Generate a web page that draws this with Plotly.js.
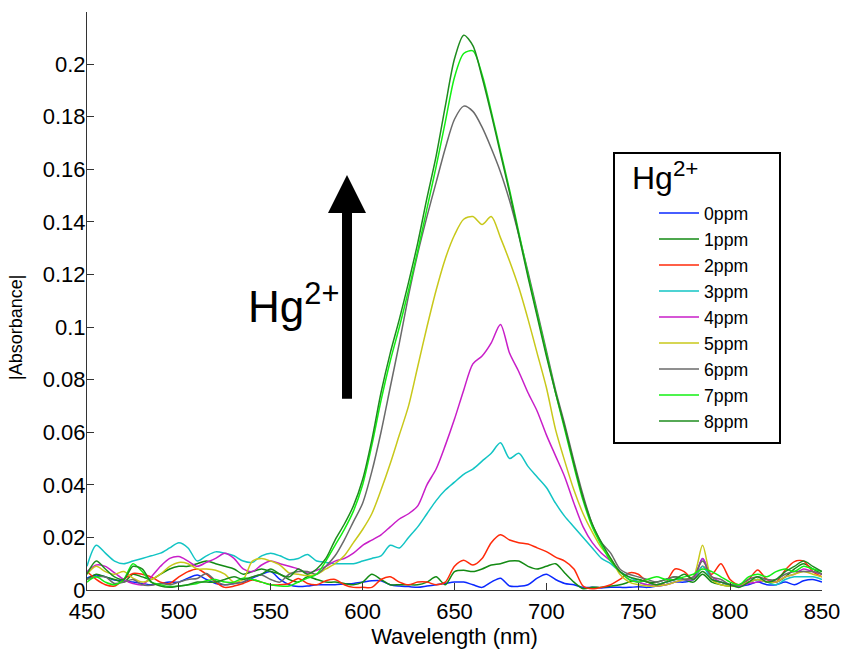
<!DOCTYPE html>
<html><head><meta charset="utf-8">
<script src="https://cdn.plot.ly/plotly-3.0.1.min.js"></script>
<style>html,body{margin:0;padding:0;background:#fff}#chart{width:842px;height:649px}</style>
</head><body><div id="chart"></div>
<script>
const wavelength = [450,455,460,465,470,475,480,485,490,495,500,505,510,515,520,525,530,535,540,545,550,555,560,565,570,575,580,585,590,595,600,605,610,615,620,625,630,635,640,645,650,655,660,665,670,675,680,685,690,695,700,705,710,715,720,725,730,735,740,745,750,755,760,765,770,775,780,785,790,795,800,805,810,815,820,825,830,835,840,845,850];

const seriesNames = ['0ppm','1ppm','2ppm','3ppm','4ppm','5ppm','6ppm','7ppm','8ppm'];
const seriesColors = ['#0a28ff','#138a13','#ff2a0a','#12c4c4','#c81ec8','#c8c81a','#6a6a6a','#12f012','#1e8c1e'];

const ppm0 = [0.0045,0.0057,0.005,0.0038,0.0035,0.003,0.0025,0.002,0.0025,0.003,
0.003,0.0045,0.0057,0.004,0.0025,0.002,0.0025,0.003,0.0045,0.006,
0.007,0.004,0.002,0.0013,0.0015,0.002,0.002,0.002,0.0023,0.0025,
0.003,0.0035,0.0035,0.002,0.0015,0.0013,0.001,0.0015,0.002,0.0025,
0.003,0.003,0.002,0.001,0.003,0.0045,0.0015,0.0014,0.002,0.0045,
0.006,0.004,0.0025,0.002,0.001,0.001,0.0008,0.001,0.001,0.001,
0.0012,0.001,0.0015,0.002,0.003,0.003,0.004,0.012,0.004,0.003,
0.002,0.0015,0.002,0.003,0.002,0.002,0.003,0.002,0.0035,0.004,
0.003];
const ppm1 = [0.004,0.006,0.005,0.004,0.003,0.006,0.005,0.004,0.006,0.008,
0.009,0.009,0.010,0.011,0.010,0.009,0.008,0.006,0.007,0.008,
0.007,0.006,0.004,0.003,0.005,0.004,0.003,0.003,0.0025,0.002,
0.003,0.006,0.004,0.002,0.002,0.002,0.002,0.003,0.005,0.002,
0.007,0.0075,0.007,0.008,0.0095,0.010,0.011,0.011,0.009,0.008,
0.009,0.010,0.0065,0.003,0.0005,0.001,0.001,0.0015,0.002,0.003,
0.004,0.003,0.003,0.004,0.005,0.004,0.003,0.006,0.003,0.002,
0.0015,0.002,0.003,0.004,0.003,0.003,0.005,0.008,0.010,0.008,
0.006];
const ppm2 = [0.007,0.004,0.002,0.0015,0.004,0.0063,0.006,0.005,0.003,0.0025,
0.005,0.007,0.008,0.006,0.003,0.001,0.0015,0.0025,0.0038,0.003,
0.002,0.002,0.0025,0.0044,0.0025,0.002,0.0035,0.004,0.002,0.001,
0.001,0.001,0.004,0.005,0.003,0.002,0.003,0.003,0.002,0.003,
0.009,0.0113,0.0095,0.012,0.018,0.021,0.019,0.018,0.0175,0.016,
0.0146,0.0125,0.011,0.008,0.0015,0.0005,0.001,0.002,0.004,0.0065,
0.006,0.003,0.002,0.003,0.008,0.007,0.004,0.009,0.006,0.010,
0.004,0.002,0.004,0.0076,0.004,0.003,0.0076,0.0108,0.011,0.007,
0.005];
const ppm3 = [0.009,0.017,0.014,0.011,0.010,0.011,0.012,0.013,0.014,0.016,
0.018,0.016,0.011,0.013,0.0145,0.014,0.013,0.011,0.0105,0.013,
0.014,0.013,0.0115,0.012,0.0135,0.011,0.0105,0.010,0.010,0.010,
0.011,0.012,0.013,0.017,0.016,0.020,0.024,0.029,0.034,0.038,
0.041,0.044,0.046,0.049,0.052,0.056,0.050,0.052,0.047,0.043,
0.039,0.033,0.028,0.024,0.020,0.016,0.012,0.010,0.007,0.005,
0.003,0.002,0.002,0.003,0.004,0.004,0.004,0.009,0.004,0.003,
0.002,0.002,0.003,0.004,0.003,0.002,0.004,0.005,0.005,0.005,
0.004];
const ppm4 = [0.007,0.0095,0.009,0.0065,0.004,0.0025,0.002,0.005,0.009,0.012,
0.0127,0.011,0.009,0.0105,0.012,0.014,0.012,0.008,0.007,0.0095,
0.011,0.010,0.009,0.008,0.0065,0.0075,0.009,0.011,0.012,0.014,
0.017,0.019,0.021,0.024,0.027,0.029,0.032,0.040,0.046,0.055,
0.065,0.076,0.086,0.089,0.094,0.101,0.090,0.083,0.075,0.068,
0.059,0.051,0.043,0.033,0.024,0.018,0.014,0.011,0.007,0.004,
0.003,0.002,0.0015,0.002,0.003,0.004,0.004,0.012,0.005,0.003,
0.002,0.0015,0.0025,0.003,0.004,0.003,0.005,0.006,0.008,0.007,
0.006];
const ppm5 = [0.006,0.009,0.007,0.006,0.007,0.0045,0.003,0.004,0.006,0.009,
0.0105,0.010,0.008,0.008,0.0075,0.006,0.003,0.004,0.011,0.012,
0.011,0.0095,0.0065,0.006,0.0055,0.006,0.008,0.010,0.013,0.018,
0.023,0.029,0.038,0.048,0.059,0.070,0.085,0.100,0.114,0.126,
0.135,0.141,0.142,0.139,0.142,0.134,0.125,0.115,0.103,0.090,
0.077,0.061,0.049,0.038,0.029,0.022,0.016,0.012,0.006,0.003,
0.002,0.0015,0.0015,0.002,0.003,0.004,0.005,0.017,0.004,0.002,
0.0015,0.002,0.003,0.004,0.003,0.003,0.005,0.006,0.007,0.006,
0.005];
const ppm6 = [0.004,0.005,0.005,0.0025,0.003,0.004,0.002,0.0018,0.0025,0.002,
0.003,0.004,0.0044,0.0063,0.0035,0.002,0.0025,0.003,0.005,0.0057,
0.004,0.003,0.006,0.007,0.007,0.006,0.009,0.013,0.019,0.026,
0.033,0.045,0.060,0.077,0.094,0.112,0.128,0.142,0.155,0.168,
0.179,0.184,0.182,0.176,0.168,0.159,0.148,0.135,0.121,0.106,
0.091,0.076,0.063,0.049,0.036,0.025,0.018,0.014,0.008,0.006,
0.005,0.004,0.003,0.004,0.005,0.004,0.005,0.011,0.005,0.004,
0.002,0.002,0.004,0.005,0.004,0.004,0.006,0.007,0.007,0.007,
0.006];
const ppm7 = [0.003,0.005,0.003,0.002,0.004,0.010,0.007,0.003,0.002,0.0013,
0.0015,0.002,0.0025,0.0035,0.004,0.003,0.003,0.0045,0.004,0.003,
0.002,0.0015,0.0015,0.003,0.0045,0.006,0.011,0.017,0.023,0.030,
0.040,0.055,0.072,0.087,0.100,0.114,0.129,0.145,0.161,0.178,
0.195,0.204,0.205,0.196,0.182,0.167,0.152,0.136,0.120,0.105,
0.090,0.075,0.061,0.047,0.034,0.024,0.017,0.011,0.007,0.004,
0.003,0.004,0.005,0.004,0.004,0.005,0.006,0.008,0.007,0.005,
0.003,0.002,0.005,0.006,0.005,0.007,0.008,0.007,0.009,0.008,
0.007];
const ppm8 = [0.006,0.011,0.008,0.005,0.004,0.009,0.008,0.003,0.0015,0.001,
0.0015,0.002,0.003,0.003,0.003,0.004,0.005,0.004,0.005,0.006,
0.008,0.006,0.005,0.008,0.006,0.008,0.012,0.019,0.025,0.032,
0.042,0.057,0.075,0.090,0.103,0.117,0.132,0.149,0.165,0.184,
0.202,0.211,0.207,0.195,0.181,0.166,0.151,0.135,0.119,0.104,
0.089,0.075,0.062,0.048,0.035,0.025,0.018,0.012,0.007,0.005,
0.004,0.003,0.002,0.003,0.004,0.006,0.004,0.007,0.004,0.003,
0.002,0.001,0.003,0.005,0.003,0.004,0.007,0.009,0.011,0.009,
0.007];

const yTickVals = [0,0.02,0.04,0.06,0.08,0.1,0.12,0.14,0.16,0.18,0.2];
const yTickText = ['0','0.02','0.04','0.06','0.08','0.1','0.12','0.14','0.16','0.18','0.2'];
const xTickVals = [450,500,550,600,650,700,750,800,850];

const allSeries = [ppm0,ppm1,ppm2,ppm3,ppm4,ppm5,ppm6,ppm7,ppm8];
const FONT = 'Liberation Sans, Arial, sans-serif';

const traces = allSeries.map((vals, i) => ({
  x: wavelength, y: vals, type: 'scatter', mode: 'lines',
  name: seriesNames[i],
  line: {color: seriesColors[i], width: 1.5, shape: 'spline', smoothing: 0.8}
}));

// pixel helpers for decoration placement (plot area 87..822 x, 12..590 y)
const W = 842, H = 649, L = 87, R = 20, T = 12, B = 59;
const px = x => (x - L) / (W - L - R);
const py = y => (H - B - y) / (H - T - B);

const layout = {
  width: W, height: H,
  margin: {l: L, r: R, t: T, b: B, pad: 0},
  paper_bgcolor: '#fff', plot_bgcolor: '#fff',
  font: {family: FONT, color: '#000', size: 20},
  showlegend: true,
  legend: {
    x: px(654), y: py(195), xanchor: 'left', yanchor: 'top',
    bgcolor: 'rgba(0,0,0,0)', borderwidth: 0,
    font: {family: FONT, size: 17.7, color: '#000'},
    itemwidth: 40, tracegroupgap: 0
  },
  xaxis: {
    range: [450, 850], tickvals: xTickVals, ticks: 'inside', ticklen: 7, tickwidth: 1,
    tickcolor: '#333', showline: true, linecolor: '#333', linewidth: 1,
    showgrid: false, zeroline: false, mirror: false, ticklabelstandoff: 2,
    tickfont: {family: FONT, size: 22, color: '#000'},
    title: {text: 'Wavelength (nm)', font: {family: FONT, size: 22, color: '#000'}, standoff: 1}
  },
  yaxis: {
    range: [0, 0.2198], tickvals: yTickVals, ticktext: yTickText, ticks: 'inside', ticklen: 7, tickwidth: 1,
    tickcolor: '#333', showline: true, linecolor: '#333', linewidth: 1,
    showgrid: false, zeroline: false, mirror: false, ticklabelstandoff: -4,
    tickfont: {family: FONT, size: 22, color: '#000'}
  },
  shapes: [{
    type: 'rect', xref: 'paper', yref: 'paper',
    x0: px(614), x1: px(780), y0: py(443), y1: py(153),
    line: {color: '#000', width: 2}, fillcolor: '#fff', layer: 'below'
  }],
  annotations: [
    {xref: 'paper', yref: 'paper', x: px(16), y: py(328), xanchor: 'center', yanchor: 'middle',
     text: '|Absorbance|', textangle: -90, showarrow: false, font: {family: FONT, size: 18, color: '#000'}},
    {xref: 'paper', yref: 'paper', x: px(630), y: py(176), xanchor: 'left', yanchor: 'middle',
     text: 'Hg<sup>2+</sup>', showarrow: false, font: {family: FONT, size: 32, color: '#000'}},
    {xref: 'paper', yref: 'paper', x: px(246), y: py(303), xanchor: 'left', yanchor: 'middle',
     text: 'Hg<sup>2+</sup>', showarrow: false, font: {family: FONT, size: 44, color: '#000'}},
    {xref: 'x', yref: 'y', x: 591.5, y: 0.1578, axref: 'x', ayref: 'y', ax: 591.5, ay: 0.0722,
     text: '', showarrow: true, arrowhead: 2, arrowsize: 0.76, arrowwidth: 10, arrowcolor: '#000'}
  ]
};

Plotly.newPlot('chart', traces, layout, {displayModeBar: false, staticPlot: true});
</script>
</body></html>
